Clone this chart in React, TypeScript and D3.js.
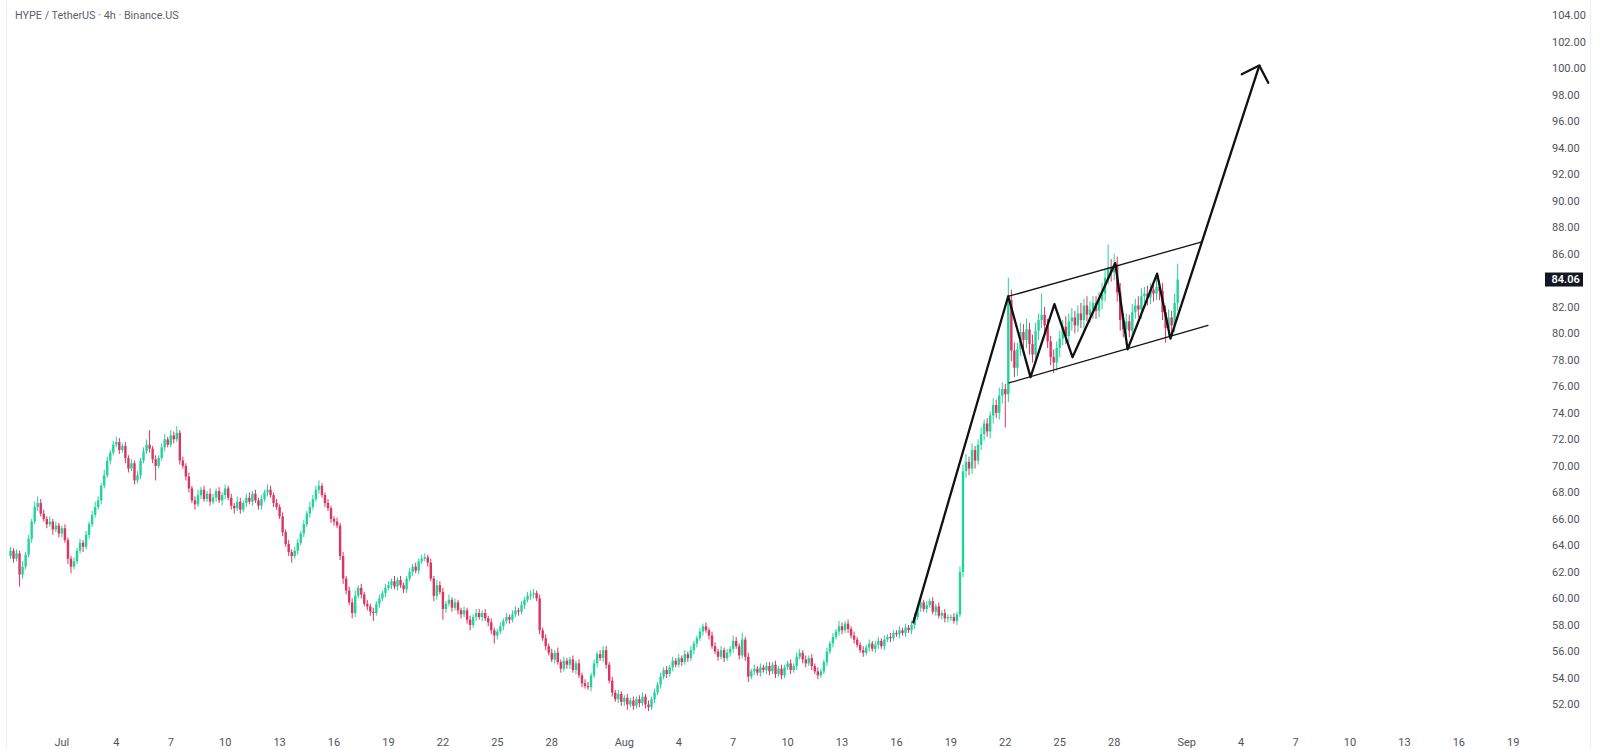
import * as d3 from "d3";
import React, { useEffect, useRef } from "react";

// HYPE/USDT 4h candles, closes (open = previous close)
const firstCandle = "2025-06-28T04:00:00Z";
const firstOpen = 63.2;

const junCloses = [
  63.6, 63.0, 63.4, 61.8, 62.4,
  63.3, 64.5, 65.8, 66.9, 67.2, 66.4,
  66.0, 65.6, 65.8, 65.2, 65.5, 64.9,
];

const julCloses = [
  65.3, 64.4, 63.0, 62.4, 62.8, 63.6,
  64.2, 63.9, 64.8, 65.6, 66.3, 66.9,
  67.4, 68.5, 69.3, 70.4, 71.0, 71.6,
  71.8, 71.2, 71.5, 70.6, 69.8, 70.2,
  68.9, 69.3, 70.4, 71.1, 71.6, 71.3,
  70.5, 70.0, 70.6, 71.4, 72.0, 71.6,
  72.3, 72.0, 72.5, 70.4, 70.0, 69.2,
  68.3, 67.4, 67.1, 67.8, 68.2, 67.5,
  67.9, 67.3, 67.6, 68.1, 67.4, 67.8,
  68.3, 67.6, 67.0, 66.8, 67.3, 66.7,
  67.2, 67.6, 67.3, 67.9, 67.4, 67.0,
  67.5, 68.0, 68.2, 67.8, 67.2, 66.9,
  66.2, 65.0, 64.1, 63.5, 63.2, 63.6,
  64.2, 64.9, 65.6, 66.4, 66.9, 67.5,
  68.2, 68.5, 67.8, 67.2, 66.8, 66.0,
  65.8, 65.5, 63.2, 61.5, 60.6, 59.7,
  58.9, 60.2, 60.8, 60.3, 59.6, 59.4,
  59.0, 58.9, 59.6, 60.0, 60.4, 60.8,
  61.0, 61.3, 60.9, 61.4, 61.0, 60.7,
  61.5, 62.0, 62.4, 62.1, 62.8, 63.0,
  63.1, 62.7, 61.5, 60.2, 61.0, 60.5,
  59.2, 59.6, 59.9, 59.3, 59.7, 59.1,
  58.8, 59.1, 58.4, 58.0, 58.6, 58.9,
  58.6, 58.9, 58.5, 58.2, 57.6, 57.2,
  57.5, 57.9, 58.3, 58.6, 58.4, 58.8,
  59.1, 59.0, 59.5, 59.9, 60.2, 60.3,
  60.4, 60.0, 57.6, 57.0, 56.4, 55.9,
  55.4, 55.9, 55.2, 54.7, 55.3, 55.0,
  55.4, 54.6, 55.1, 54.2, 53.6, 53.4,
  53.3, 54.2, 55.1, 55.8, 55.5, 56.1,
  55.0, 53.8, 52.9, 52.4, 52.8, 52.2,
];

const augCloses = [
  52.5, 52.0, 52.3, 51.9, 52.4, 52.1,
  52.6, 52.0, 51.8, 52.4, 52.9, 53.5,
  54.1, 54.6, 54.3, 54.8, 55.3, 55.0,
  55.5, 55.2, 55.8, 55.5, 56.1, 56.6,
  57.0, 57.5, 57.9, 57.6, 57.2, 56.4,
  56.0, 55.6, 56.1, 55.5, 55.9, 56.2,
  56.8, 56.4, 55.7, 56.9, 55.6, 54.1,
  54.5, 54.7, 54.4, 54.8, 54.6, 54.9,
  54.5, 55.0, 54.3, 54.7, 54.2, 54.8,
  55.1, 54.6, 54.9, 55.6, 55.9, 55.4,
  55.1, 55.5, 54.9, 54.5, 54.2, 54.5,
  55.2, 56.0, 56.6, 57.1, 57.5, 57.9,
  57.6, 58.1, 57.7, 57.2, 56.9, 56.5,
  56.1, 55.9, 56.3, 56.6, 56.2, 56.5,
  56.8, 56.4, 56.9, 57.1, 57.0, 57.4,
  57.3, 57.6, 57.4, 57.8, 57.6, 58.0,
  58.6, 59.3, 59.7, 59.2, 59.5, 59.8,
  59.0, 59.4, 58.7, 58.9, 58.5, 58.6,
  58.6, 58.3, 58.8, 62.0, 69.6, 70.3,
  69.8, 71.2, 70.4, 71.6, 72.4, 73.2,
  72.6, 73.8, 74.6, 74.0, 75.3, 75.8,
  75.4, 82.5, 78.7, 77.4, 78.8, 80.1,
  79.5, 80.3, 79.2, 78.4, 80.2, 81.0,
  81.4, 80.6, 79.4, 78.2, 77.8, 78.9,
  79.6, 80.5, 79.8, 80.9, 81.2, 80.6,
  81.5, 81.0, 82.1, 81.4, 81.8, 82.3,
  81.7, 82.5, 83.0, 84.2, 85.0, 84.6,
  85.2, 83.1, 81.0, 80.3, 80.9, 80.2,
  81.6, 82.1, 81.8, 82.8, 83.0, 82.7,
  83.3, 83.0, 83.5, 83.2, 81.6, 80.4,
  81.2, 80.6, 82.3, 84.06,
];

// wick lengths beyond the body, in tenths of a dollar
const upperWicks = [
  3, 2, 3, 2, 4,
  2, 3, 2, 4, 5, 3,
  3, 2, 4, 2, 3, 2,
  2, 3, 2, 2, 3, 2,
  3, 2, 3, 2, 3, 4,
  3, 2, 4, 3, 2, 3,
  4, 3, 2, 3, 2, 3,
  2, 3, 2, 3, 4, 11,
  2, 3, 2, 3, 4, 2,
  4, 3, 5, 2, 3, 2,
  3, 2, 3, 4, 2, 3,
  2, 4, 3, 2, 3, 2,
  3, 2, 3, 2, 4, 3,
  2, 3, 4, 2, 3, 2,
  3, 2, 4, 3, 2, 3,
  2, 3, 2, 3, 2, 3,
  3, 2, 3, 2, 4, 3,
  3, 4, 2, 2, 3, 2,
  2, 3, 2, 3, 2, 3,
  3, 4, 2, 3, 2, 3,
  2, 3, 2, 3, 2, 3,
  3, 2, 4, 2, 3, 2,
  2, 3, 2, 3, 2, 3,
  3, 2, 3, 2, 4, 3,
  3, 2, 4, 2, 3, 2,
  2, 3, 2, 3, 2, 3,
  3, 2, 3, 2, 3, 2,
  2, 3, 2, 3, 2, 3,
  3, 2, 3, 2, 3, 3,
  3, 2, 3, 2, 3, 2,
  3, 2, 4, 2, 3, 2,
  2, 3, 2, 3, 2, 3,
  3, 2, 3, 2, 3, 3,
  3, 2, 3, 2, 3, 2,
  2, 3, 2, 3, 2, 3,
  3, 2, 3, 2, 3, 2,
  3, 2, 3, 2, 3, 2,
  3, 2, 3, 2, 3, 2,
  2, 3, 2, 3, 2, 3,
  3, 2, 3, 2, 3, 2,
  4, 3, 2, 5, 2, 3,
  2, 3, 2, 3, 2, 3,
  3, 2, 3, 2, 3, 2,
  2, 3, 2, 3, 3, 2,
  3, 2, 3, 2, 3, 2,
  2, 3, 2, 3, 2, 4,
  3, 2, 3, 2, 3, 2,
  2, 3, 2, 3, 2, 3,
  3, 2, 3, 2, 3, 2,
  2, 3, 2, 3, 2, 3,
  3, 2, 3, 2, 3, 2,
  3, 2, 3, 2, 3, 2,
  2, 3, 2, 4, 5, 6,
  4, 5, 3, 4, 5, 3,
  4, 3, 5, 4, 6, 5,
  4, 17, 8, 6, 5, 7,
  6, 8, 5, 7, 6, 5,
  16, 6, 5, 4, 6, 5,
  6, 5, 8, 6, 7, 5,
  6, 8, 5, 7, 6, 5,
  5, 6, 8, 7, 17, 6,
  8, 6, 7, 5, 6, 5,
  6, 5, 7, 6, 5, 6,
  5, 6, 7, 5, 6, 5,
  6, 5, 7, 12,
];

const lowerWicks = [
  2, 3, 2, 9, 3,
  2, 2, 3, 2, 3, 2,
  2, 3, 2, 4, 2, 3,
  3, 2, 4, 5, 2, 2,
  2, 4, 2, 3, 2, 2,
  2, 3, 2, 2, 3, 2,
  2, 3, 2, 4, 3, 2,
  3, 2, 3, 2, 2, 3,
  3, 11, 2, 2, 3, 2,
  2, 3, 2, 3, 2, 3,
  3, 2, 4, 2, 3, 2,
  2, 3, 2, 3, 2, 4,
  3, 2, 3, 4, 2, 3,
  2, 3, 2, 3, 2, 3,
  3, 2, 3, 2, 3, 2,
  2, 3, 2, 3, 5, 2,
  3, 2, 3, 2, 3, 2,
  2, 3, 2, 3, 2, 3,
  3, 2, 3, 4, 3, 2,
  4, 3, 2, 3, 2, 3,
  3, 6, 2, 3, 2, 3,
  2, 3, 2, 3, 2, 3,
  3, 2, 3, 2, 3, 2,
  2, 3, 2, 4, 3, 2,
  8, 3, 2, 3, 2, 3,
  3, 2, 3, 4, 2, 3,
  2, 3, 2, 3, 3, 6,
  3, 2, 3, 2, 3, 2,
  2, 3, 2, 3, 2, 3,
  3, 2, 3, 2, 3, 2,
  2, 3, 2, 3, 2, 3,
  3, 2, 3, 2, 3, 2,
  2, 3, 2, 3, 2, 3,
  3, 2, 3, 2, 3, 3,
  3, 4, 2, 3, 2, 3,
  2, 3, 3, 2, 3, 2,
  3, 2, 3, 2, 3, 2,
  2, 3, 2, 3, 2, 3,
  3, 2, 3, 2, 3, 2,
  2, 3, 2, 3, 2, 3,
  3, 2, 3, 2, 3, 4,
  2, 3, 2, 3, 2, 3,
  3, 2, 3, 2, 3, 2,
  2, 3, 2, 3, 2, 3,
  3, 2, 3, 2, 3, 2,
  2, 3, 2, 3, 2, 3,
  3, 2, 3, 2, 3, 2,
  2, 3, 2, 3, 2, 3,
  3, 2, 3, 2, 3, 2,
  2, 3, 2, 3, 2, 3,
  3, 2, 3, 2, 3, 2,
  2, 3, 2, 3, 3, 3,
  3, 2, 3, 2, 4, 5,
  5, 4, 6, 3, 4, 5,
  4, 5, 6, 4, 5, 6,
  25, 6, 8, 7, 6, 5,
  7, 6, 8, 6, 5, 7,
  6, 7, 5, 6, 8, 6,
  7, 5, 6, 5, 7, 6,
  5, 6, 7, 5, 6, 7,
  6, 5, 7, 6, 5, 7,
  6, 7, 8, 6, 7, 5,
  7, 5, 6, 7, 5, 6,
  5, 6, 5, 7, 6, 11,
  6, 7, 5, 6,
];

// axis ticks
const priceTicks = [52, 54, 56, 58, 60, 62, 64, 66, 68, 70, 72, 74, 76, 78, 80, 82, 84, 86, 88, 90, 92, 94, 96, 98, 100, 102, 104];
const dateTicks = [
  "2025-07-01", "2025-07-04", "2025-07-07", "2025-07-10", "2025-07-13", "2025-07-16", "2025-07-19",
  "2025-07-22", "2025-07-25", "2025-07-28", "2025-08-01", "2025-08-04", "2025-08-07", "2025-08-10",
  "2025-08-13", "2025-08-16", "2025-08-19", "2025-08-22", "2025-08-25", "2025-08-28", "2025-09-01",
  "2025-09-04", "2025-09-07", "2025-09-10", "2025-09-13", "2025-09-16", "2025-09-19",
];
const lastPrice = 84.06;

// drawn annotations: [time, price]
const flagPath: [string, number][] = [
  ["2025-08-16T22:20Z", 58.2],
  ["2025-08-22T03:50Z", 82.8],
  ["2025-08-23T09:20Z", 76.7],
  ["2025-08-24T17:00Z", 82.2],
  ["2025-08-25T16:50Z", 78.2],
  ["2025-08-28T01:25Z", 85.3],
  ["2025-08-28T17:45Z", 78.8],
  ["2025-08-30T08:50Z", 84.5],
  ["2025-08-31T02:25Z", 79.6],
  ["2025-09-05T00:00Z", 100.2],
];
const arrowHead: [string, number][] = [
  ["2025-09-04T00:45Z", 99.55],
  ["2025-09-05T00:00Z", 100.2],
  ["2025-09-05T11:50Z", 98.9],
];
const channelUpper: [string, number][] = [
  ["2025-08-22T04:50Z", 82.8],
  ["2025-09-01T20:10Z", 86.9],
];
const channelLower: [string, number][] = [
  ["2025-08-22T04:50Z", 76.26],
  ["2025-09-02T04:05Z", 80.6],
];

const W = 1600;
const H = 749;
const UP = "#22d39c";
const DOWN = "#dc3560";
const FONT = "Roboto, 'Noto Sans', sans-serif";

export default function App() {
  const svgRef = useRef<SVGSVGElement | null>(null);

  useEffect(() => {
    if (!svgRef.current) return;
    const svg = d3.select(svgRef.current);
    svg.selectAll("*").remove();

    const closes = [...junCloses, ...julCloses, ...augCloses];
    const t0 = new Date(firstCandle).getTime();
    const candles = closes.map((c, i) => {
      const o = i === 0 ? firstOpen : closes[i - 1];
      return {
        t: new Date(t0 + i * 4 * 3600 * 1000),
        o,
        c,
        h: Math.max(o, c) + upperWicks[i] / 10,
        l: Math.min(o, c) - lowerWicks[i] / 10,
      };
    });

    const x = d3
      .scaleUtc()
      .domain([new Date("2025-07-01T00:00Z"), new Date("2025-09-19T00:00Z")])
      .range([61.9, 1513.3]);
    const y = d3.scaleLinear().domain([52, 104]).range([704.5, 15.2]);

    svg.append("rect").attr("width", W).attr("height", H).attr("fill", "#fff");

    // pane frame
    svg.append("line").attr("x1", 6.5).attr("x2", 6.5).attr("y1", 0).attr("y2", H).attr("stroke", "#eceef2");
    svg.append("line").attr("x1", 1590.5).attr("x2", 1590.5).attr("y1", 0).attr("y2", H).attr("stroke", "#eceef2");

    svg
      .append("text")
      .attr("x", 15)
      .attr("y", 15)
      .attr("dy", "0.35em")
      .attr("font-family", FONT)
      .attr("font-size", 10.8)
      .attr("fill", "#5d606b")
      .text("HYPE / TetherUS · 4h · Binance.US");

    // candles
    const g = svg.append("g");
    const bar = g
      .selectAll("g")
      .data(candles)
      .join("g")
      .attr("fill", (d) => (d.c >= d.o ? UP : DOWN))
      .attr("stroke", (d) => (d.c >= d.o ? UP : DOWN));
    bar
      .append("line")
      .attr("x1", (d) => x(d.t))
      .attr("x2", (d) => x(d.t))
      .attr("y1", (d) => y(d.h))
      .attr("y2", (d) => y(d.l))
      .attr("stroke-width", 1);
    bar
      .append("rect")
      .attr("stroke", "none")
      .attr("x", (d) => x(d.t) - 1.2)
      .attr("width", 2.4)
      .attr("y", (d) => y(Math.max(d.o, d.c)))
      .attr("height", (d) => Math.max(1, Math.abs(y(d.o) - y(d.c))));

    // price axis
    svg
      .append("g")
      .attr("font-family", FONT)
      .attr("font-size", 11)
      .attr("fill", "#50535e")
      .selectAll("text")
      .data(priceTicks)
      .join("text")
      .attr("x", 1552)
      .attr("y", (d) => y(d))
      .attr("dy", "0.35em")
      .text((d) => d.toFixed(2));

    // last price badge
    svg
      .append("rect")
      .attr("x", 1545)
      .attr("y", y(lastPrice) - 7)
      .attr("width", 38)
      .attr("height", 14)
      .attr("fill", "#131722");
    svg
      .append("text")
      .attr("x", 1551.5)
      .attr("y", y(lastPrice))
      .attr("dy", "0.35em")
      .attr("font-family", FONT)
      .attr("font-size", 11)
      .attr("font-weight", 600)
      .attr("fill", "#fff")
      .text(lastPrice.toFixed(2));

    // time axis
    const fmt = (d: Date) => (d.getUTCDate() === 1 ? d3.utcFormat("%b")(d) : String(d.getUTCDate()));
    svg
      .append("g")
      .attr("font-family", FONT)
      .attr("font-size", 11)
      .attr("fill", "#50535e")
      .attr("text-anchor", "middle")
      .selectAll("text")
      .data(dateTicks.map((s) => new Date(s + "T00:00Z")))
      .join("text")
      .attr("x", (d) => x(d))
      .attr("y", 742)
      .attr("dy", "0.35em")
      .text(fmt);

    // drawings
    const line = d3
      .line<[string, number]>()
      .x((d) => x(new Date(d[0])))
      .y((d) => y(d[1]));
    const draw = svg.append("g").attr("fill", "none").attr("stroke", "#111").attr("stroke-linejoin", "round").attr("stroke-linecap", "round");
    draw.append("path").attr("d", line(channelUpper)).attr("stroke-width", 1.3);
    draw.append("path").attr("d", line(channelLower)).attr("stroke-width", 1.3);
    draw.append("path").attr("d", line(flagPath)).attr("stroke-width", 2.3);
    draw.append("path").attr("d", line(arrowHead)).attr("stroke-width", 2.3);
  }, []);

  return (
    <svg
      ref={svgRef}
      width={W}
      height={H}
      style={{ position: "absolute", left: 0, top: 0, display: "block" }}
    />
  );
}
